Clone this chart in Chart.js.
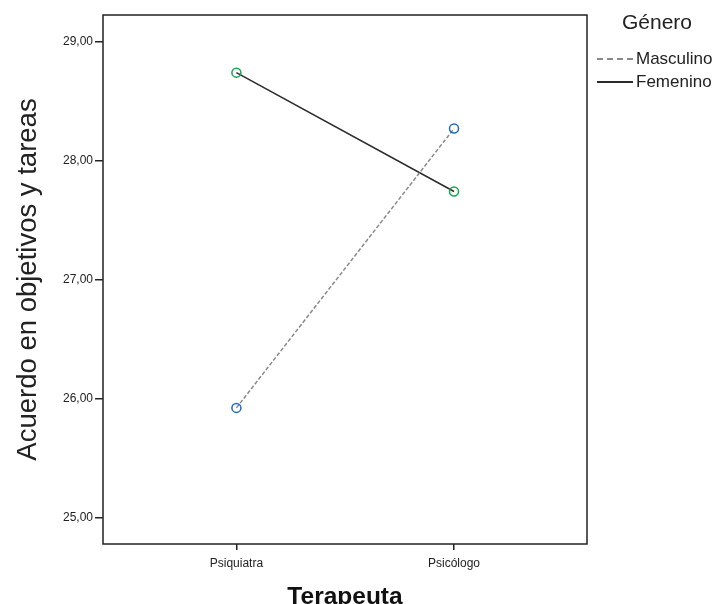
<!DOCTYPE html>
<html>
<head>
<meta charset="utf-8">
<script src="https://cdn.jsdelivr.net/npm/chart.js@4/dist/chart.umd.min.js"></script>
<style>
  html, body { margin: 0; padding: 0; background: #fff; }
  #wrap { position: relative; width: 720px; height: 604px; overflow: hidden; }
  #legend { position: absolute; left: 597px; top: 8px; font-family: "Liberation Sans", Arial, sans-serif; color: #222; white-space: nowrap; }
  #legend .title { font-size: 21px; margin-left: 25px; line-height: 28px; }
  #legend .item { font-size: 17px; line-height: 23px; display: flex; align-items: center; }
  #legend .item.first { margin-top: 11px; }
  #legend .swatch { width: 36px; height: 0; margin-right: 3px; }
</style>
</head>
<body>
<div id="wrap">
  <canvas id="chart" width="720" height="604"></canvas>
  <div id="legend">
    <div class="title">Género</div>
    <div class="item first"><span class="swatch" style="border-top: 2px dashed #8a8a8a;"></span>Masculino</div>
    <div class="item"><span class="swatch" style="border-top: 2px solid #2a2a2a;"></span>Femenino</div>
  </div>
</div>
<script>
// Data
const categories = ['Psiquiatra', 'Psicólogo'];
const masculino = [25.92, 28.27];
const femenino = [28.74, 27.74];
const yTicks = [25, 26, 27, 28, 29];

document.addEventListener('DOMContentLoaded', function () {
    const ctx = document.getElementById('chart').getContext('2d');
    Chart.defaults.font.family = '"Liberation Sans", Arial, sans-serif';
    Chart.defaults.color = '#222';

    // frame around the plot area
    const frame = {
        id: 'frame',
        afterDraw(chart) {
            const a = chart.chartArea;
            const c = chart.ctx;
            c.save();
            c.strokeStyle = '#222';
            c.lineWidth = 1.5;
            c.strokeRect(a.left, a.top, a.right - a.left, a.bottom - a.top);
            c.restore();
        }
    };

    new Chart(ctx, {
        type: 'line',
        data: {
            datasets: [{
                label: 'Masculino',
                data: masculino.map((v, i) => ({ x: i, y: v })),
                borderColor: '#8a8a8a',
                borderDash: [4, 2],
                borderWidth: 1.5,
                pointStyle: 'circle',
                pointRadius: 4.5,
                pointBorderWidth: 1.5,
                pointBorderColor: '#1f6bc2',
                pointBackgroundColor: 'rgba(0,0,0,0)'
            }, {
                label: 'Femenino',
                data: femenino.map((v, i) => ({ x: i, y: v })),
                borderColor: '#2a2a2a',
                borderWidth: 1.5,
                pointStyle: 'circle',
                pointRadius: 4.5,
                pointBorderWidth: 1.5,
                pointBorderColor: '#12a84c',
                pointBackgroundColor: 'rgba(0,0,0,0)'
            }]
        },
        options: {
            responsive: false,
            animation: false,
            layout: { padding: { top: 15, right: 133, left: 0, bottom: 0 } },
            plugins: {
                legend: { display: false },
                tooltip: { enabled: false }
            },
            scales: {
                x: {
                    type: 'linear',
                    min: -0.613,
                    max: 1.611,
                    afterBuildTicks: scale => { scale.ticks = categories.map((c, i) => ({ value: i })); },
                    afterFit: scale => { scale.height = 60; },
                    ticks: {
                        callback: v => categories[v],
                        color: '#222',
                        font: { size: 12 },
                        padding: 6,
                        maxRotation: 0
                    },
                    grid: { drawOnChartArea: false, drawTicks: true, tickLength: 6, color: '#222', lineWidth: 1.5 },
                    border: { display: false },
                    title: {
                        display: true,
                        text: 'Terapeuta',
                        font: { size: 24.5, weight: 'bold' },
                        color: '#111',
                        padding: { top: 0, bottom: -7.5 }
                    }
                },
                y: {
                    min: 24.775,
                    max: 29.225,
                    afterBuildTicks: scale => { scale.ticks = yTicks.map(v => ({ value: v })); },
                    afterFit: scale => { scale.width = 103; },
                    ticks: {
                        callback: v => v.toFixed(2).replace('.', ','),
                        color: '#222',
                        font: { size: 12 },
                        padding: 2
                    },
                    grid: { drawOnChartArea: false, drawTicks: true, tickLength: 8, color: '#222', lineWidth: 1.5 },
                    border: { display: false },
                    title: {
                        display: true,
                        text: 'Acuerdo en objetivos y tareas',
                        font: { size: 27.5 },
                        color: '#222',
                        padding: { top: 12, bottom: 0 }
                    }
                }
            }
        },
        plugins: [frame]
    });
});
</script>
</body>
</html>
